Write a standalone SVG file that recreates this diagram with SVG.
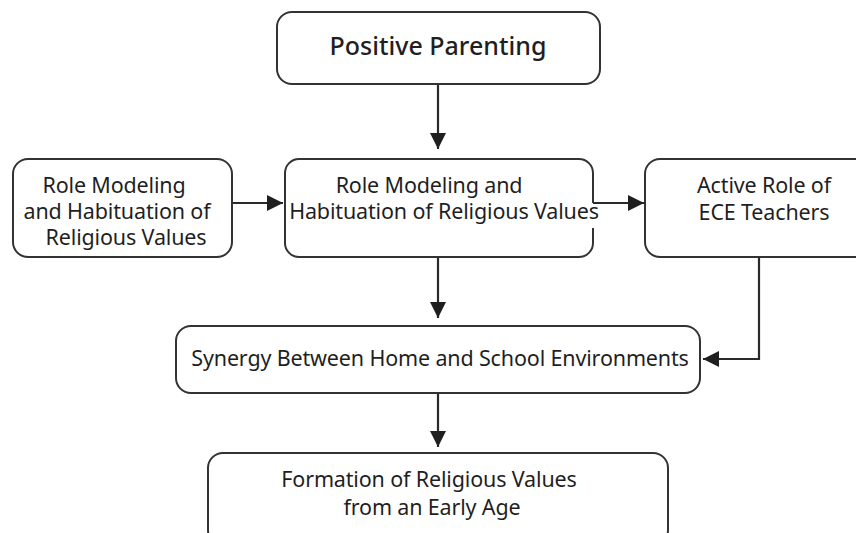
<svg xmlns="http://www.w3.org/2000/svg" width="856" height="533" viewBox="0 0 856 533">
  <style>
    .box { fill: #ffffff; stroke: #333333; stroke-width: 2; }
    .edge { fill: none; stroke: #333333; stroke-width: 2; }
    .fill { fill: #ffffff; stroke: none; }
    .lbl { font-family: "Noto Sans", "Open Sans", "Liberation Sans", sans-serif; font-size: 21.5px; font-weight: 400; letter-spacing: -0.15px; fill: #1f1f1f; text-anchor: middle; }
    .title { font-size: 25px; font-weight: 500; letter-spacing: 0; }
    .conn { fill: none; stroke: #2a2a2a; stroke-width: 2.2; marker-end: url(#arrow); }
  </style>
  <defs>
    <marker id="arrow" viewBox="0 0 16 16" refX="16" refY="8" markerWidth="16" markerHeight="16" markerUnits="userSpaceOnUse" orient="auto">
      <path d="M0,0 L16,8 L0,16 z" fill="#1f1f1f"/>
    </marker>
  </defs>
  <rect width="856" height="533" fill="#ffffff"/>

  <g id="connectors">
    <line class="conn" x1="438" y1="84" x2="438" y2="149"/>
    <line class="conn" x1="232" y1="203" x2="283" y2="203"/>
    <line class="conn" x1="593" y1="203" x2="644" y2="203"/>
    <line class="conn" x1="438" y1="257" x2="438" y2="318"/>
    <polyline class="conn" points="759,257 759,359 703,359"/>
    <line class="conn" x1="438" y1="393" x2="438" y2="447"/>
  </g>

  <g id="positive-parenting">
    <rect class="box" x="277" y="12" width="323" height="72" rx="15"/>
    <text class="lbl title" x="438" y="55">Positive Parenting</text>
  </g>

  <g id="role-modeling-left">
    <rect class="box" x="13" y="159" width="219" height="98" rx="15"/>
    <text class="lbl" x="114" y="193">Role Modeling</text>
    <text class="lbl" x="117" y="219">and Habituation of</text>
    <text class="lbl" x="126" y="245">Religious Values</text>
  </g>

  <g id="role-modeling-center">
    <rect class="fill" x="285" y="159" width="308" height="98" rx="14"/>
    <!-- right side left open where the outgoing arrow and the long line meet it -->
    <path class="edge" d="M299,159 H579 A14,14 0 0 1 593,173 V203 M593,228 V243 A14,14 0 0 1 579,257 H299 A14,14 0 0 1 285,243 V173 A14,14 0 0 1 299,159"/>
    <text class="lbl" x="429" y="193">Role Modeling and</text>
    <text class="lbl" x="444" y="219">Habituation of Religious Values</text>
  </g>

  <g id="ece-teachers">
    <rect class="box" x="645" y="159" width="230" height="98" rx="15"/>
    <text class="lbl" x="764" y="193">Active Role of</text>
    <text class="lbl" x="764" y="220">ECE Teachers</text>
  </g>

  <g id="synergy">
    <rect class="box" x="176" y="326" width="524" height="67" rx="15"/>
    <text class="lbl" x="440" y="366">Synergy Between Home and School Environments</text>
  </g>

  <g id="formation">
    <rect class="box" x="208" y="453" width="460" height="92" rx="15"/>
    <text class="lbl" x="429" y="487">Formation of Religious Values</text>
    <text class="lbl" x="432" y="515">from an Early Age</text>
  </g>
</svg>
